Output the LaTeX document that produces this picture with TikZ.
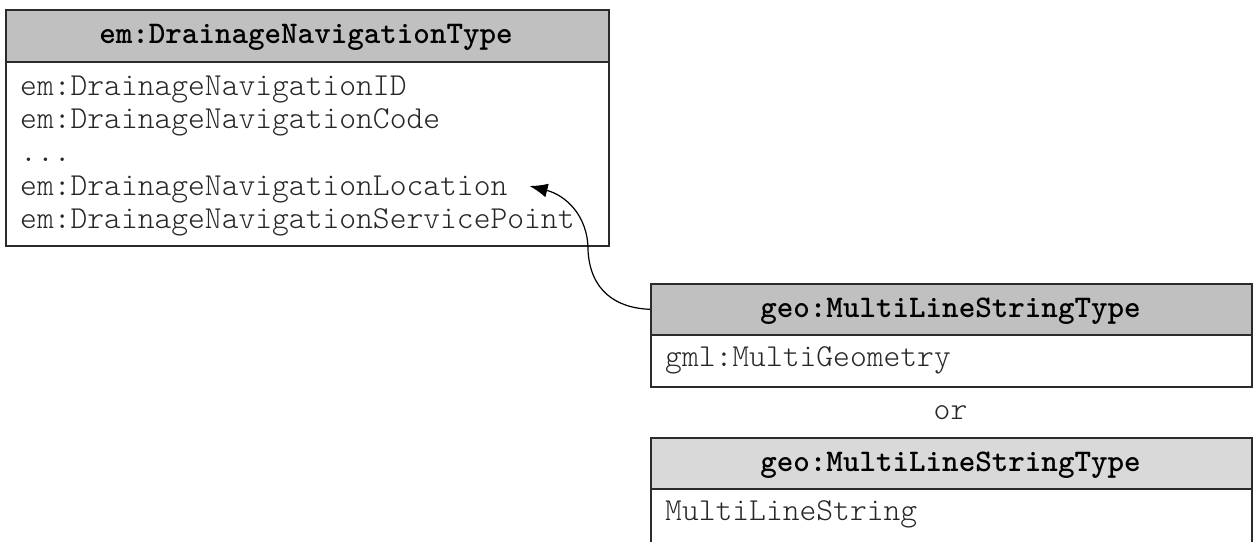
\documentclass[tikz,border=0pt]{standalone}
\usepackage{fontspec}
\setmonofont{lmmonolt10-regular.otf}[BoldFont=lmmonolt10-bold.otf]
\usetikzlibrary{arrows.meta}
\definecolor{frame}{HTML}{2B2B2B}
\definecolor{headdark}{HTML}{C0C0C0}
\definecolor{headlight}{HTML}{D9D9D9}
\definecolor{rowtext}{HTML}{262626}
\tikzset{
  boxline/.style={draw=frame, line width=1.6pt},
  headbox/.style={boxline, anchor=north west, inner sep=0pt},
  bodybox/.style={boxline, fill=white, anchor=north west, inner sep=0pt},
  titletxt/.style={anchor=base, inner sep=0pt,
    font=\ttfamily\bfseries\fontsize{31.5}{33}\selectfont, text=black},
  rowtxt/.style={anchor=base west, inner sep=0pt,
    font=\ttfamily\fontsize{32}{33}\selectfont, text=rowtext},
  link/.style={black, line width=1.2pt, -{Latex[length=18pt,width=14pt]}}
}
\begin{document}
\begin{tikzpicture}[x=1pt, y=-1pt]
\clip (0,0) rectangle (1253,541);
\useasboundingbox (0,0) rectangle (1253,541);
\fill[white] (0,0) rectangle (1253,541);

% em:DrainageNavigationType
\node[bodybox, minimum width=603pt, minimum height=236pt] (navbox) at (5,9) {};
\node[headbox, fill=headdark, minimum width=603pt, minimum height=52pt] (navhead) at (5,9) {};
\node[titletxt] (navtitle) at (306,43) {em:DrainageNavigationType};
\node[rowtxt] (rid)  at (20,95)  {em:DrainageNavigationID};
\node[rowtxt] (rcode) at (20,128) {em:DrainageNavigationCode};
\node[rowtxt] (rdots) at (20,161) {...};
\node[rowtxt] (loc)  at (20,195) {em:DrainageNavigationLocation};
\node[rowtxt] (rsp)  at (20,228) {em:DrainageNavigationServicePoint};

% geo:MultiLineStringType (gml)
\node[bodybox, minimum width=601pt, minimum height=103pt] (gmlbox) at (650,283) {};
\node[headbox, fill=headdark, minimum width=601pt, minimum height=51pt] (gmlhead) at (650,283) {};
\node[titletxt] (gmltitle) at (950.5,317) {geo:MultiLineStringType};
\node[rowtxt] (gmlrow) at (665,366) {gml:MultiGeometry};

% alternative
\node[anchor=base, inner sep=0pt, font=\ttfamily\fontsize{32}{33}\selectfont, text=rowtext] (ortxt) at (950.5,419) {or};

% geo:MultiLineStringType (simple)
\node[bodybox, minimum width=601pt, minimum height=140pt] (mlsbox) at (650,437) {};
\node[headbox, fill=headlight, minimum width=601pt, minimum height=51pt] (mlshead) at (650,437) {};
\node[titletxt] (mlstitle) at (950.5,471) {geo:MultiLineStringType};
\node[rowtxt] (mlsrow) at (665,520) {MultiLineString};

% reference from the geometry type to the location element
\coordinate (loctip) at ([xshift=22pt, yshift=3pt]loc.east);
\draw[link] (gmlhead.west) .. controls (615,308) and (590,290) .. (588,250)
  .. controls (588,215) and (565,195) .. (loctip);
\end{tikzpicture}
\end{document}
